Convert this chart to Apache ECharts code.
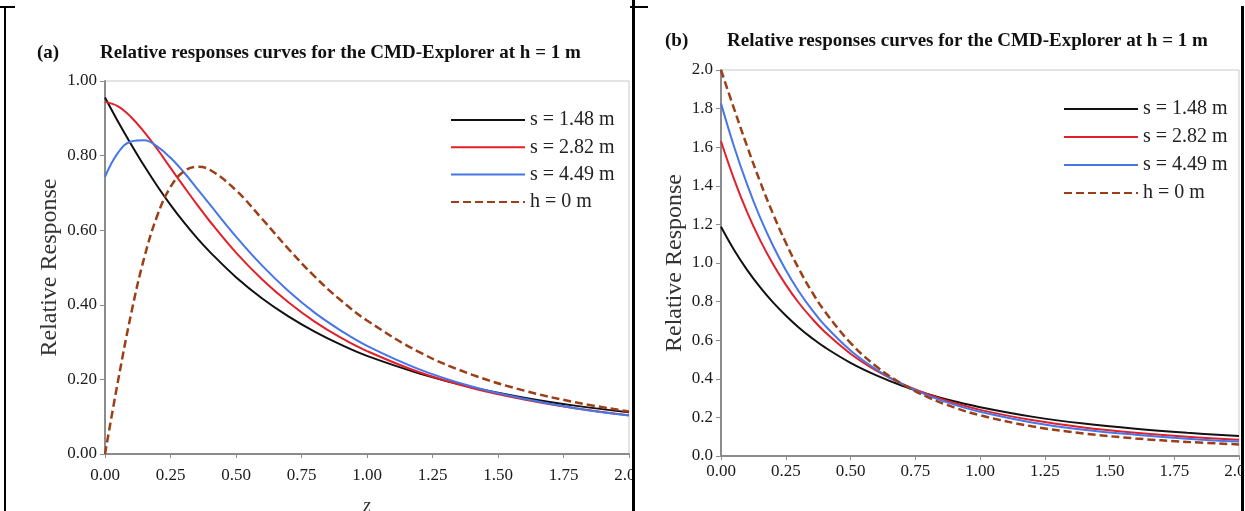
<!DOCTYPE html>
<html lang="en">
<head>
    <meta charset="utf-8">
    <title>Relative responses curves</title>
    <script src="https://cdn.jsdelivr.net/npm/echarts@6/dist/echarts.min.js"></script>
    <style>
        body { margin: 0; background: #fff; }
        .chart { position: absolute; top: 0; height: 511px; }
        #left { left: 6px; width: 626px; }
        #right { left: 636px; width: 605px; }
        .bar { position: absolute; background: #000; }
    </style>
</head>
<body>
    <div class="bar" style="left:0;top:6px;width:15px;height:2px"></div>
    <div class="bar" style="left:4px;top:6px;width:2px;height:505px"></div>
    <div class="bar" style="left:630px;top:6px;width:18px;height:2px"></div>
    <div class="bar" style="left:632px;top:0;width:3px;height:511px"></div>
    <div class="bar" style="left:1241px;top:6px;width:3px;height:505px"></div>

    <div id="left" class="chart"></div>
    <div id="right" class="chart"></div>
<script>
    // depth z (normalised), same points for every curve
    var zs = [0, 0.05, 0.1, 0.15, 0.2, 0.25, 0.3, 0.35, 0.4, 0.5, 0.6, 0.7, 0.8, 0.9, 1.0, 1.2, 1.4, 1.6, 1.8, 2.0];

    var names = ['s = 1.48 m', 's = 2.82 m', 's = 4.49 m', 'h = 0 m'];
    var colors = ['#111111', '#e3202a', '#4676e8', '#9c3f16'];

    // panel (a)
    var aS148 = [0.956, 0.891, 0.830, 0.772, 0.718, 0.668, 0.622, 0.580, 0.542, 0.474, 0.417, 0.369, 0.328, 0.293, 0.263, 0.216, 0.179, 0.151, 0.129, 0.112];
    var aS282 = [0.944, 0.932, 0.903, 0.863, 0.817, 0.767, 0.718, 0.670, 0.624, 0.540, 0.468, 0.407, 0.355, 0.312, 0.276, 0.219, 0.177, 0.146, 0.122, 0.104];
    var aS449 = [0.743, 0.808, 0.838, 0.841, 0.824, 0.794, 0.756, 0.713, 0.669, 0.583, 0.505, 0.437, 0.379, 0.331, 0.290, 0.227, 0.181, 0.148, 0.122, 0.103];
    var aH0   = [0.000, 0.197, 0.377, 0.527, 0.640, 0.716, 0.757, 0.770, 0.762, 0.707, 0.630, 0.550, 0.476, 0.412, 0.358, 0.273, 0.213, 0.170, 0.138, 0.114];

    // panel (b)
    var bS148 = [1.188, 1.069, 0.966, 0.876, 0.797, 0.728, 0.666, 0.612, 0.564, 0.483, 0.418, 0.364, 0.320, 0.284, 0.253, 0.204, 0.168, 0.141, 0.120, 0.103];
    var bS282 = [1.631, 1.436, 1.266, 1.121, 0.996, 0.888, 0.794, 0.714, 0.644, 0.530, 0.442, 0.373, 0.319, 0.275, 0.239, 0.186, 0.148, 0.121, 0.100, 0.084];
    var bS449 = [1.827, 1.605, 1.410, 1.239, 1.092, 0.964, 0.854, 0.760, 0.678, 0.547, 0.448, 0.372, 0.313, 0.266, 0.229, 0.174, 0.136, 0.110, 0.090, 0.075];
    var bH0   = [2.000, 1.801, 1.608, 1.425, 1.257, 1.106, 0.971, 0.853, 0.751, 0.586, 0.464, 0.373, 0.304, 0.252, 0.211, 0.154, 0.117, 0.091, 0.073, 0.060];

    var font = 'Liberation Serif, Times New Roman, serif';

    function pairs(ys) {
        var out = [];
        for (var i = 0; i < zs.length; i++) {
            out.push([zs[i], ys[i]]);
        }
        return out;
    }

    function makeSeries(list) {
        var s = [];
        for (var i = 0; i < list.length; i++) {
            s.push({
                name: names[i],
                type: 'line',
                smooth: 0.4,
                symbol: 'none',
                data: pairs(list[i]),
                lineStyle: {
                    color: colors[i],
                    width: i == 3 ? 2.5 : 2,
                    type: i == 3 ? [8, 4] : 'solid'
                },
                itemStyle: { color: colors[i] }
            });
        }
        return s;
    }

    function build(p) {
        return {
            animation: false,
            title: [{
                text: p.tag, left: p.tagLeft, top: p.titleTop,
                textStyle: { fontFamily: font, fontSize: 19, fontWeight: 'bold', color: '#111' }
            }, {
                text: 'Relative responses curves for the CMD-Explorer at h = 1 m',
                left: p.titleLeft, top: p.titleTop,
                textStyle: { fontFamily: font, fontSize: 19, fontWeight: 'bold', color: '#111' }
            }],
            legend: {
                orient: 'vertical',
                left: p.legendLeft,
                top: p.legendTop,
                itemWidth: 74,
                itemHeight: 14,
                itemGap: p.legendGap,
                itemStyle: { opacity: 0 },   // hide the dot, keep the line
                data: names,
                textStyle: { fontFamily: font, fontSize: 20, color: '#222' }
            },
            grid: {
                left: p.gridLeft, top: p.gridTop, width: p.gridWidth, height: p.gridHeight,
                outerBoundsMode: 'none',
                show: true, borderColor: '#c9c9c9', borderWidth: 1
            },
            xAxis: {
                type: 'value', min: 0, max: 2, interval: 0.25,
                name: p.xName, nameLocation: 'middle', nameGap: 43,
                nameTextStyle: { fontFamily: font, fontSize: 20, fontStyle: 'italic', color: '#333' },
                axisLine: { lineStyle: { color: '#8c8c8c', width: 2 } },
                axisTick: { length: 4, lineStyle: { color: '#8c8c8c' } },
                axisLabel: {
                    margin: p.xMargin, fontFamily: font, fontSize: 17, color: '#1a1a1a',
                    formatter: function (v) { return v.toFixed(2); }
                },
                splitLine: { show: false }
            },
            yAxis: {
                type: 'value', min: 0, max: p.yMax, interval: p.yStep,
                name: 'Relative Response', nameLocation: 'middle', nameGap: p.nameGap,
                nameMoveOverlap: false,
                nameTextStyle: { fontFamily: font, fontSize: 24, color: '#333' },
                axisLine: { show: true, lineStyle: { color: '#8c8c8c', width: 2 } },
                axisTick: { show: true, length: 5, lineStyle: { color: '#8c8c8c' } },
                axisLabel: {
                    margin: 8, fontFamily: font, fontSize: 17, color: '#1a1a1a',
                    formatter: function (v) { return v.toFixed(p.digits); }
                },
                splitLine: { show: false }
            },
            series: makeSeries(p.data)
        };
    }

    var left = echarts.init(document.getElementById('left'));
    left.setOption(build({
        tag: '(a)', tagLeft: 26, titleLeft: 89, titleTop: 39,
        legendLeft: 439, legendTop: 105, legendGap: 7.3,
        gridLeft: 99, gridTop: 81, gridWidth: 524, gridHeight: 373,
        xName: 'z', xMargin: 13,
        yMax: 1, yStep: 0.2, digits: 2, nameGap: 43,
        data: [aS148, aS282, aS449, aH0]
    }));

    var right = echarts.init(document.getElementById('right'));
    right.setOption(build({
        tag: '(b)', tagLeft: 24, titleLeft: 86, titleTop: 27,
        legendLeft: 422, legendTop: 94, legendGap: 8,
        gridLeft: 85, gridTop: 70, gridWidth: 518, gridHeight: 386,
        xName: '', xMargin: 7,
        yMax: 2, yStep: 0.2, digits: 1, nameGap: 34,
        data: [bS148, bS282, bS449, bH0]
    }));
</script>
</body>
</html>
